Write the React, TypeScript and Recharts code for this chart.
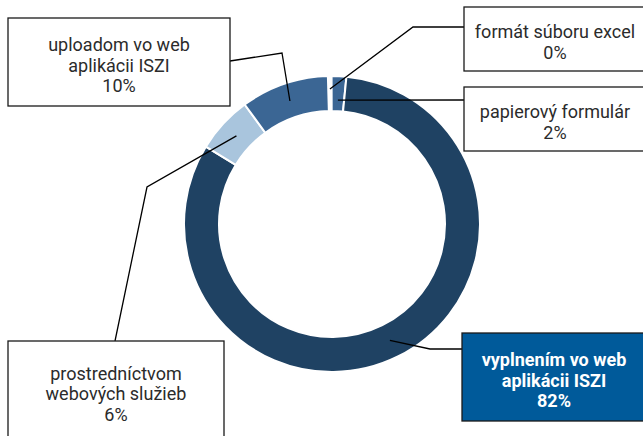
import React from "react";
import { PieChart, Pie, Cell } from "recharts";

// slices, clockwise from the top
const categories = [
  "formát súboru excel",
  "papierový formulár",
  "vyplnením vo web aplikácii ISZI",
  "prostredníctvom webových služieb",
  "uploadom vo web aplikácii ISZI",
];
const values = [0.4, 1.6, 82.2, 6.2, 9.6];
const percentLabels = ["0%", "2%", "82%", "6%", "10%"];
const labelText = [
  ["formát súboru excel"],
  ["papierový formulár"],
  ["vyplnením vo web", "aplikácii ISZI"],
  ["prostredníctvom", "webových služieb"],
  ["uploadom vo web", "aplikácii ISZI"],
];

// the 0% slice shows only as a white gap
const colors = ["#FFFFFF", "#3B6694", "#1F4263", "#A9C5DD", "#3B6694"];

const data = categories.map((name, i) => ({ name, value: values[i] }));

// callout boxes and the bends of their leader lines
const callouts = [
  { box: [464, 7, 182, 64], bends: [[413, 27], [464, 27]], r: 135 },
  { box: [464, 87, 182, 64], bends: [[464, 100]], r: 124 },
  { box: [462, 333, 184, 88], bends: [[430, 349], [462, 349]], r: 130, strong: true },
  { box: [8, 341, 216, 99], bends: [[147, 187], [115, 341]], r: 130 },
  { box: [8, 18, 222, 88], bends: [[282, 53], [230, 61]], r: 130 },
];

const RAD = Math.PI / 180;
const FONT = "Roboto, 'Noto Sans', sans-serif";

const renderCallout = (props: any) => {
  const { cx, cy, midAngle, index } = props;
  const c = callouts[index];
  const ax = cx + c.r * Math.cos(-midAngle * RAD);
  const ay = cy + c.r * Math.sin(-midAngle * RAD);
  const pts = [[ax, ay], ...c.bends].map((p) => p.join(",")).join(" ");
  const [bx, by, bw, bh] = c.box;
  const lines = [...labelText[index], percentLabels[index]];
  const lineH = 20.5;
  const midY = by + bh / 2;
  return (
    <g>
      <polyline points={pts} fill="none" stroke="#000" strokeWidth={1.3} />
      <rect
        x={bx}
        y={by}
        width={bw}
        height={bh}
        fill={c.strong ? "#005A9A" : "#fff"}
        stroke="#1a1a1a"
        strokeWidth={1.3}
      />
      {lines.map((t, i) => (
        <text
          key={i}
          x={bx + bw / 2}
          y={midY + (i - (lines.length - 1) / 2) * lineH + 9.5}
          textAnchor="middle"
          fontFamily={FONT}
          fontSize={18}
          fontWeight={c.strong ? 700 : 400}
          fill={c.strong ? "#fff" : "#2b2b2b"}
        >
          {t}
        </text>
      ))}
    </g>
  );
};

export default function App() {
  return (
    <div style={{ position: "absolute", left: 0, top: 0, width: 643, height: 436, background: "#fff" }}>
      <PieChart width={643} height={436} margin={{ top: 0, right: 0, bottom: 0, left: 0 }}>
        <Pie
          data={data}
          dataKey="value"
          nameKey="name"
          cx={332}
          cy={224}
          innerRadius={113}
          outerRadius={148}
          startAngle={91.6}
          endAngle={-268.4}
          stroke="#fff"
          strokeWidth={2}
          label={renderCallout}
          labelLine={false}
          isAnimationActive={false}
        >
          {data.map((entry, i) => (
            <Cell key={`cell-${i}`} fill={colors[i]} />
          ))}
        </Pie>
      </PieChart>
    </div>
  );
}
